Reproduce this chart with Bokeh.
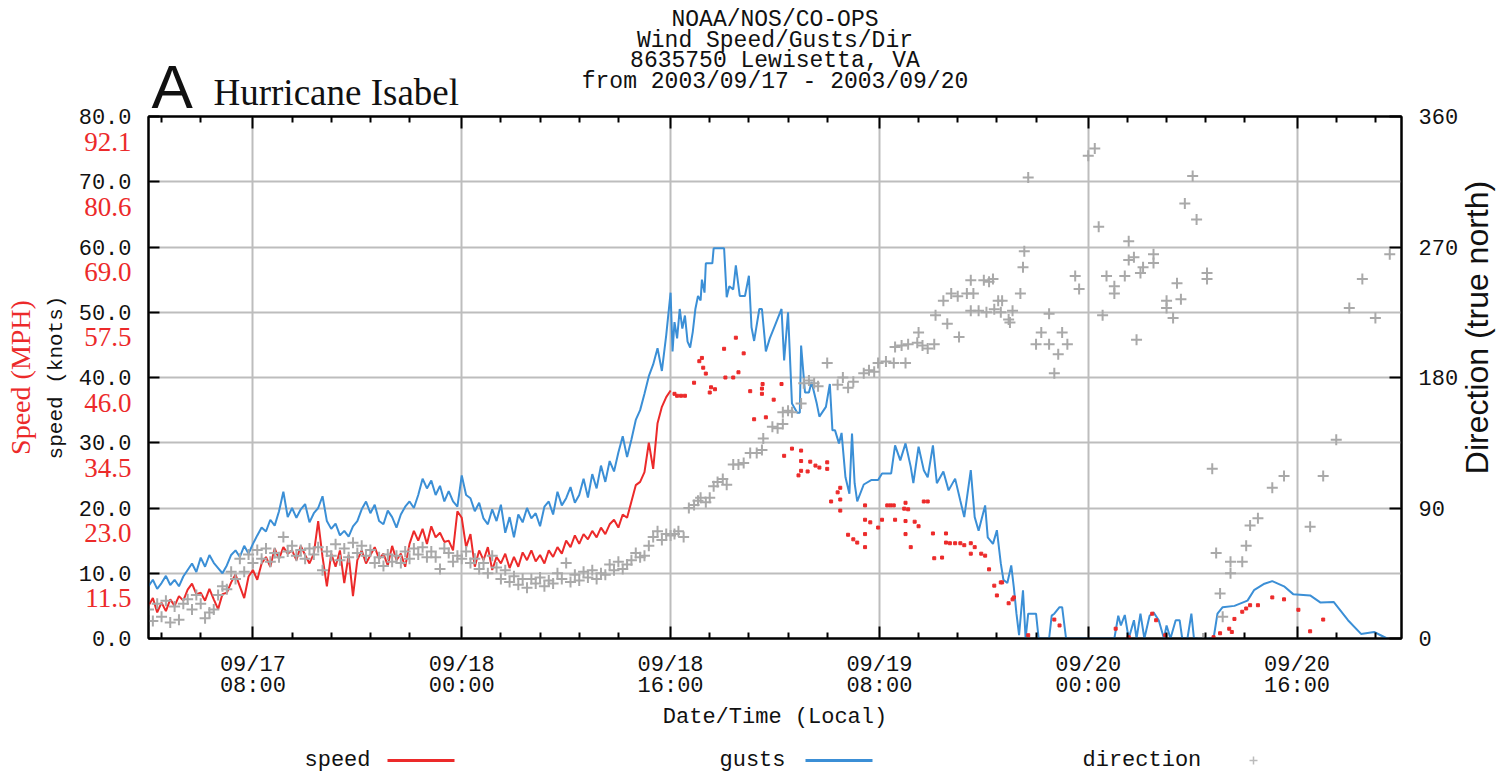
import numpy as np
from bokeh.plotting import figure
from bokeh.models import (Range1d, LinearAxis, FixedTicker, Label, Grid,
                          NumeralTickFormatter)
from bokeh.layouts import column
from bokeh.core.properties import value
from bokeh.embed import file_html
from bokeh.resources import INLINE

# ---------------- data (hours since 2003-09-17 00:00 local) ----------------
# dense part: one reading every 20 minutes from hour 0 to hour 40
speed_dense = [
    5.0, 6.2, 4.0, 5.5, 4.2, 6.0, 5.0, 6.5, 5.8, 7.5, 8.4, 6.8,
    7.0, 5.8, 7.6, 6.0, 4.5, 6.8, 7.0, 8.6, 9.8, 8.0, 6.2, 9.5,
    10.5, 9.0, 11.5, 12.5, 11.0, 13.8, 12.2, 14.0, 13.0, 13.5, 12.0, 14.2,
    12.8, 11.5, 13.0, 18.0, 12.5, 8.0, 13.0, 11.0, 13.5, 8.5, 12.8, 6.5,
    12.0, 13.5, 11.5, 12.8, 14.0, 12.2, 13.0, 11.2, 14.2, 12.0, 13.0, 11.0,
    14.5, 16.5, 15.0, 16.8, 14.5, 17.2, 15.5, 16.2, 14.8, 15.0, 13.5, 19.5,
    18.5, 14.0, 16.0, 11.0, 13.5, 12.0, 14.0, 10.5, 12.5, 11.5, 13.0, 10.8,
    12.5, 11.0, 13.2, 12.0, 13.5, 11.8, 12.8, 11.5, 13.5, 12.5, 14.0, 13.0,
    15.0, 14.0, 15.8, 14.5, 16.0, 15.2, 16.5, 15.5, 17.0, 16.0, 17.5, 18.2,
    17.0, 19.0, 18.5, 21.0, 23.5, 24.0, 25.5, 30.0, 26.0, 33.0, 35.5, 37.0,
    38.0,
]
gust_dense = [
    8.0, 9.0, 7.6, 8.5, 9.6, 8.2, 9.0, 8.0, 9.5, 10.5, 11.5, 10.2,
    12.4, 11.0, 12.8, 11.6, 10.8, 10.0, 11.2, 12.8, 13.5, 12.5, 14.2, 13.0,
    14.5, 15.8, 17.0, 16.4, 18.2, 17.3, 19.5, 22.5, 18.6, 20.0, 18.5, 19.8,
    20.6, 17.8, 19.2, 20.0, 21.8, 18.0, 16.8, 17.6, 15.8, 16.5, 15.6, 17.2,
    18.0, 19.8, 21.0, 19.2, 20.5, 18.0, 17.5, 19.6, 18.6, 17.0, 19.0, 20.2,
    21.0, 20.0, 22.0, 24.5, 23.0, 24.2, 22.0, 23.4, 21.0, 22.6, 21.0, 20.2,
    25.0, 22.0, 21.5, 19.5, 20.8, 18.4, 17.5, 19.8, 18.0, 20.5, 16.2, 18.6,
    15.5, 19.0, 17.8, 20.0, 18.4, 19.2, 17.2, 20.2, 21.0, 19.0, 22.5, 20.4,
    21.5, 23.2, 20.8, 22.0, 24.5, 21.6, 25.2, 23.0, 26.5, 24.0, 27.2, 25.6,
    28.5, 31.0, 27.8, 30.5, 33.5, 35.0, 37.5, 40.2, 42.0, 44.5, 41.0, 46.5,
    53.0,
]
dir_dense = [
    20, 12, 24, 15, 26, 11, 22, 13, 24, 27, 20, 30,
    24, 14, 18, 20, 30, 36, 34, 46, 41, 55, 46, 58,
    52, 61, 55, 62, 53, 59, 56, 70, 60, 64, 57, 61,
    55, 62, 58, 63, 47, 60, 57, 65, 54, 62, 56, 66,
    59, 64, 57, 61, 52, 56, 50, 58, 53, 57, 52, 60,
    55, 62, 58, 63, 56, 60, 56, 48, 62, 59, 53, 57,
    55, 60, 52, 55, 48, 52, 45, 57, 49, 41, 47, 39,
    43, 37, 41, 35, 41, 38, 42, 36, 40, 38, 45, 41,
    52, 39, 44, 40, 46, 42, 47, 41, 45, 44, 51, 47,
    53, 48, 51, 54, 59, 56, 57, 64, 70, 74, 68, 72,
    71,
]
dense_hours = [i / 3 for i in range(len(speed_dense))]

# after the eye-wall passage: irregular readings (hour, value)
gust_late_hours = [
    40.15, 40.3, 40.5, 40.7, 40.9, 41.1, 41.3, 41.5, 41.7, 41.9, 42.1, 42.3, 42.4, 42.6, 42.7,
    43.2, 43.3, 44.1, 44.3, 44.5, 44.8, 45.0, 45.3, 45.7, 46.0, 46.2, 46.4, 46.8, 47.0, 47.3,
    47.6, 48.0, 48.5, 48.7, 49.0, 49.3, 49.7, 49.9, 50.0, 50.3, 50.6, 50.8, 51.2, 51.4, 51.9,
    52.2, 52.4, 52.6, 52.9, 53.1, 53.4, 53.7, 53.9, 54.1, 54.3, 54.8, 55.4, 55.9, 56.2, 56.9,
    57.2, 57.6, 58.0, 58.4, 58.6, 59.0, 59.4, 59.7, 60.1, 60.4, 60.9, 61.3, 61.8, 62.2, 62.5,
    63.0, 63.3, 63.6, 64.1, 64.3, 64.7, 65.0, 65.3, 65.5, 65.8, 66.1, 66.3, 66.5, 66.7, 67.0,
    67.2, 67.4, 68.0, 68.2, 69.0, 69.2, 69.4, 69.8, 70.0, 70.3, 74.0, 74.3, 74.5, 74.8, 75.1,
    75.5, 75.7, 76.0, 76.3, 76.7, 77.0, 77.4, 77.8, 78.0, 78.3, 78.7, 79.0, 79.2, 79.6, 79.9,
    80.1, 81.6, 81.9, 82.3, 83.2, 84.2, 84.7, 85.5, 86.1, 87.0, 87.7, 89.0, 89.8, 90.8, 91.9,
    92.9, 93.9, 94.4, 94.9,
]
gust_late = [
    44.0, 48.5, 46.0, 50.5, 47.5, 49.5, 45.5, 44.6, 47.0, 50.5, 52.5, 51.8, 55.0, 53.0, 57.5,
    57.5, 59.8, 59.8, 52.3, 54.0, 53.5, 57.2, 52.5, 52.5, 55.6, 47.7, 45.6, 50.5, 50.5, 44.0,
    46.0, 48.0, 50.5, 42.6, 50.0, 36.0, 34.6, 34.6, 44.9, 37.7, 37.7, 39.3, 36.0, 34.0, 35.5,
    39.0, 31.9, 31.9, 29.9, 31.5, 24.7, 22.2, 31.4, 23.8, 21.0, 23.6, 24.3, 24.3, 25.3, 25.3,
    29.6, 27.3, 29.9, 26.3, 23.8, 29.4, 25.8, 24.7, 29.6, 23.8, 25.6, 22.7, 24.5, 21.1, 18.6,
    25.8, 18.6, 16.5, 20.4, 15.5, 14.5, 16.6, 11.5, 9.0, 8.5, 11.2, 7.8, 3.8, 0.5, 7.4,
    0.0, 3.8, 3.8, 0.0, 0.0, 3.5, 3.8, 4.8, 4.8, 0.0, 0.0, 3.5, 2.0, 3.6, 0.0,
    2.8, 0.0, 3.8, 0.0, 3.5, 4.0, 2.8, 0.0, 2.0, 0.0, 2.8, 2.8, 0.0, 0.0, 3.8,
    0.0, 0.0, 3.8, 4.8, 5.0, 5.8, 7.4, 8.4, 8.8, 8.0, 6.8, 6.6, 5.5, 5.6, 2.8,
    0.7, 1.0, 0.5, 0.0,
]
speed_late_hours = [
    40.3, 40.5, 40.8, 41.1, 41.8, 42.2, 42.4, 42.5, 42.7, 43.0, 43.1, 43.4, 44.1, 44.2, 44.8,
    45.0, 45.2, 45.6, 46.1, 46.4, 47.0, 47.0, 47.05, 47.3, 47.9, 48.5, 48.7, 49.3, 49.8, 50.0,
    50.0, 50.0, 50.5, 50.7, 51.1, 51.4, 52.0, 52.0, 52.3, 52.8, 53.0, 53.0, 53.0, 53.6, 54.0,
    54.3, 54.9, 54.9, 54.9, 54.9, 55.3, 55.9, 56.2, 56.6, 56.85, 57.1, 57.2, 57.9, 58.0, 58.0,
    58.0, 58.2, 58.4, 58.7, 59.0, 59.4, 59.7, 60.1, 60.2, 60.8, 61.1, 61.1, 61.4, 61.8, 62.2,
    62.5, 63.0, 63.0, 63.3, 63.8, 64.1, 64.4, 64.8, 65.0, 65.3, 65.4, 65.9, 66.2, 66.3, 67.4,
    69.4, 69.8, 74.1, 75.1, 76.9, 77.2, 77.9, 81.6, 82.1, 82.8, 83.0, 83.2, 83.8, 84.1, 84.4,
    85.0, 86.1, 87.0, 88.1, 89.0, 90.0,
]
speed_late = [
    37.5, 37.2, 37.2, 37.2, 39.2, 42.5, 43.0, 41.5, 40.6, 37.7, 38.5, 38.2, 44.4, 40.0, 40.0,
    46.1, 40.8, 43.7, 37.9, 33.6, 37.5, 38.3, 39.0, 33.9, 36.6, 39.0, 28.0, 29.1, 25.0, 25.7,
    27.2, 28.8, 25.6, 27.1, 26.5, 26.2, 26.0, 27.0, 21.0, 22.4, 19.6, 21.3, 23.1, 15.9, 15.2,
    14.7, 14.0, 16.0, 18.2, 20.4, 17.8, 17.0, 18.2, 20.4, 20.4, 20.4, 18.2, 19.9, 16.0, 18.0,
    20.8, 19.8, 14.0, 17.9, 17.2, 21.0, 21.0, 16.1, 12.3, 12.4, 14.7, 16.1, 14.6, 14.6, 14.6,
    14.3, 13.0, 14.6, 14.0, 13.0, 12.7, 10.6, 8.1, 6.6, 8.6, 8.6, 5.4, 6.0, 6.3, 0.5,
    2.9, 2.0, 1.5, 0.2, 3.8, 2.8, 0.5, 0.2, 0.8, 1.5, 1.0, 3.0, 4.1, 4.6, 5.1,
    5.1, 6.3, 6.0, 4.4, 1.1, 2.9,
]
dir_late_hours = [
    40.3, 40.6, 41.0, 41.4, 41.8, 42.1, 42.3, 42.7, 43.0, 43.3, 43.6, 44.0, 44.3, 44.8, 45.2,
    45.6, 46.1, 46.6, 47.0, 47.1, 47.8, 48.2, 48.6, 48.6, 49.0, 49.3, 50.0, 50.2, 50.6, 51.0,
    51.3, 52.0, 52.8, 53.2, 53.6, 54.0, 54.8, 55.2, 55.6, 55.9, 56.5, 57.1, 58.0, 57.2, 57.7,
    58.2, 58.9, 59.0, 59.3, 59.7, 60.2, 60.3, 61.2, 60.9, 61.5, 62.0, 62.7, 62.1, 63.0, 63.2,
    63.0, 63.6, 64.2, 64.8, 65.3, 64.0, 64.4, 64.7, 65.1, 65.9, 66.2, 65.4, 66.0, 66.8, 67.0,
    67.1, 67.4, 68.4, 68.0, 69.0, 69.0, 69.7, 69.4, 70.0, 70.4, 71.0, 71.3, 72.0, 72.5, 72.8,
    73.1, 73.4, 74.0, 74.0, 74.8, 75.1, 75.1, 75.5, 75.7, 76.0, 76.2, 77.0, 77.0, 78.0, 78.0,
    78.5, 78.8, 79.1, 79.4, 80.0, 80.3, 81.1, 81.1, 80.8, 81.5, 81.8, 82.1, 82.3, 82.9, 82.9,
    83.8, 84.1, 84.4, 85.0, 86.1, 87.0, 89.0, 90.0, 91.0, 92.0, 93.0, 94.0, 95.1,
]
dir_late = [
    72, 74, 70, 90, 92, 95, 97, 94, 97, 105, 108, 110, 106, 120, 120,
    121, 128, 128, 130, 138, 146, 145, 148, 156, 157, 156, 162, 176, 178, 176,
    174, 190, 175, 180, 173, 177, 183, 185, 184, 190, 191, 190, 190, 201, 202,
    203, 204, 211, 202, 200, 203, 223, 217, 233, 238, 236, 238, 208, 247, 238,
    226, 226, 225, 227, 225, 247, 246, 248, 233, 220, 226, 233, 218, 238, 256,
    267, 318, 211, 203, 203, 224, 196, 183, 211, 203, 250, 241, 333, 338, 284,
    223, 250, 238, 243, 250, 274, 261, 263, 206, 252, 256, 259, 265, 228, 233,
    221, 245, 234, 300, 319, 289, 248, 252, 0, 117, 59, 31, 15, 45, 53,
    53, 64, 78, 83, 104, 112, 77, 112, 137, 228, 248, 221, 265,
]

gust_hours = dense_hours + gust_late_hours
gust_values = gust_dense + gust_late
dir_hours = dense_hours + dir_late_hours
dir_values = dir_dense + dir_late

# axes / ticks / texts
x_major = [8, 24, 40, 56, 72, 88]
x_major_labels = ["09/17\n08:00", "09/18\n00:00", "09/18\n16:00",
                  "09/19\n08:00", "09/20\n00:00", "09/20\n16:00"]
x_minor = [1, 4, 11, 14, 17, 20, 27, 30, 33, 36, 43, 46, 49, 52,
           59, 62, 65, 68, 75, 78, 81, 84, 91, 94]
knot_ticks = [0, 10, 20, 30, 40, 50, 60, 70, 80]
mph_ticks = [10, 20, 30, 40, 50, 60, 70, 80]
mph_labels = ["11.5", "23.0", "34.5", "46.0", "57.5", "69.0", "80.6", "92.1"]
dir_ticks = [0, 90, 180, 270, 360]
title_lines = ["NOAA/NOS/CO-OPS", "Wind Speed/Gusts/Dir",
               "8635750 Lewisetta, VA", "from 2003/09/17 - 2003/09/20"]
legend_names = ["speed", "gusts", "direction"]

RED = "#ec2a2a"
BLUE = "#3b8fd6"
GRAY = "#a9a9a9"
GRID = "#bdbdbd"
INK = "#111111"
MONO = "Liberation Mono"
W = 1500
FL, FR, FT, FB = 148, 1401, 116, 638      # frame edges on the page
MPH_DROP = 25 / ((FB - FT) / 80)          # MPH labels sit 25 px under their knot tick

# ---------------- header (title block) ----------------
HH = 124          # header canvas height
OVER = 24         # the chart below slides up under the header by this much
TOPB = FT - (HH - OVER)
hd = figure(width=W, height=HH, x_range=Range1d(FL, FR), y_range=Range1d(0, HH),
            x_axis_type=None, y_axis_type=None, output_backend="svg",
            toolbar_location=None, min_border_left=FL, min_border_right=W - FR,
            min_border_top=0, min_border_bottom=0, outline_line_color=None, title=None,
            styles={"margin-bottom": f"-{OVER}px"})
hd.grid.visible = False
hd.text(x=[(FL + FR) / 2] * 4, y=[HH - 19, HH - 40, HH - 60, HH - 81], text=title_lines,
        text_font=value(MONO), text_font_size="23px", text_color=INK,
        text_align="center", text_baseline="middle")
hd.text(x=[151], y=[HH - 86], text=["A"], text_font=value("Liberation Sans"),
        text_font_size="62px", text_color=INK, text_baseline="middle")
hd.text(x=[213], y=[HH - 91.5], text=["Hurricane Isabel"], text_font=value("Liberation Serif"),
        text_font_size="37px", text_color=INK, text_baseline="middle")

# ---------------- main chart ----------------
BOTB = 96
MH = TOPB + (FB - FT) + BOTB
p = figure(width=W, height=MH, x_range=Range1d(0, 96), y_range=Range1d(0, 80),
           x_axis_type=None, y_axis_type=None, output_backend="svg",
           toolbar_location=None, min_border_left=FL, min_border_right=W - FR,
           min_border_top=TOPB, min_border_bottom=BOTB, title=None,
           outline_line_color="black", outline_line_width=2,
           border_fill_color=None, background_fill_color="white")
p.extra_y_ranges = {"dir": Range1d(0, 360)}

xticker = FixedTicker(ticks=x_major, minor_ticks=x_minor)
kticker = FixedTicker(ticks=knot_ticks)
dticker = FixedTicker(ticks=dir_ticks)

p.add_layout(Grid(dimension=0, ticker=xticker, grid_line_color=GRID, grid_line_width=2))
p.add_layout(Grid(dimension=1, ticker=kticker, grid_line_color=GRID, grid_line_width=2))

common = dict(axis_line_width=2, axis_line_color="black",
              major_tick_line_width=2, minor_tick_line_width=2,
              major_label_text_font=MONO, major_label_text_font_size="22px",
              major_label_text_color=INK, axis_label_text_font=MONO,
              axis_label_text_font_size="22px", axis_label_text_font_style="normal",
              axis_label_text_color=INK)

xb = LinearAxis(ticker=xticker, major_tick_in=12, major_tick_out=0,
                minor_tick_in=6, minor_tick_out=0,
                major_label_overrides={t: s for t, s in zip(x_major, x_major_labels)},
                major_label_standoff=14, major_label_text_line_height=0.87,
                axis_label="Date/Time (Local)", axis_label_standoff=3, **common)
p.add_layout(xb, "below")

xt = LinearAxis(ticker=xticker, major_tick_in=12, major_tick_out=0,
                minor_tick_in=6, minor_tick_out=0, major_label_standoff=0,
                **{**common, "major_label_text_font_size": "0px",
                   "major_label_text_color": None})
p.add_layout(xt, "above")

yl = LinearAxis(ticker=kticker, formatter=NumeralTickFormatter(format="0.0"),
                major_tick_in=11, major_tick_out=0, minor_tick_line_color=None,
                major_label_standoff=17, axis_label="speed (knots)",
                axis_label_standoff=8,
                **{**common, "axis_label_text_font_size": "21px"})
p.add_layout(yl, "left")

# MPH scale: second left axis whose labels are pulled back under the knot labels
mph_pos = [t - MPH_DROP for t in mph_ticks]
ym = LinearAxis(ticker=FixedTicker(ticks=mph_pos),
                major_label_overrides={t: s for t, s in zip(mph_pos, mph_labels)},
                major_label_text_font="Liberation Serif", major_label_text_font_size="27px",
                major_label_text_color=RED, major_label_standoff=-96,
                axis_line_color=None, major_tick_line_color=None, minor_tick_line_color=None,
                axis_label="Speed (MPH)", axis_label_text_font="Liberation Serif",
                axis_label_text_font_size="28px", axis_label_text_color=RED,
                axis_label_text_font_style="normal", axis_label_standoff=45)
p.add_layout(ym, "left")

yr = LinearAxis(y_range_name="dir", ticker=dticker, major_tick_in=12, major_tick_out=0,
                minor_tick_line_color=None, major_label_standoff=17, **common)
p.add_layout(yr, "right")

p.add_layout(Label(x=96, y=40, x_offset=75, y_offset=50, text="Direction (true north)",
                   angle=np.pi / 2, text_align="center", text_baseline="middle",
                   text_font="Liberation Sans", text_font_size="32px", text_color=INK),
             "right")

# series
p.line(gust_hours, gust_values, line_color=BLUE, line_width=2)
p.line(dense_hours, speed_dense, line_color=RED, line_width=2)
p.scatter(speed_late_hours, speed_late, marker="square", size=3,
          fill_color=RED, line_color=RED)
p.scatter(dir_hours, dir_values, y_range_name="dir", marker="cross", size=11,
          line_color=GRAY, line_width=2)

# ---------------- legend strip ----------------
LH = 40
top_of_legend = (HH - OVER) + MH
lg = figure(width=W, height=LH, x_range=Range1d(FL, FR), y_range=Range1d(0, LH),
            x_axis_type=None, y_axis_type=None, output_backend="svg",
            toolbar_location=None, min_border_left=FL, min_border_right=W - FR,
            min_border_top=0, min_border_bottom=0, outline_line_color=None, title=None)
lg.grid.visible = False
ly = LH - (760 - top_of_legend)
lg.text(x=[304, 719, 1082], y=[ly] * 3, text=legend_names,
        text_font=value(MONO), text_font_size="22px", text_color=INK,
        text_baseline="middle", text_align="left")
lg.line([387, 454], [ly, ly], line_color=RED, line_width=3)
lg.line([805, 872], [ly, ly], line_color=BLUE, line_width=3)
lg.scatter([1253], [ly], marker="cross", size=8, line_color="#bbbbbb", line_width=1.5)

layout = column(hd, p, lg, spacing=0)
open("out.html", "w").write(file_html(layout, INLINE))
